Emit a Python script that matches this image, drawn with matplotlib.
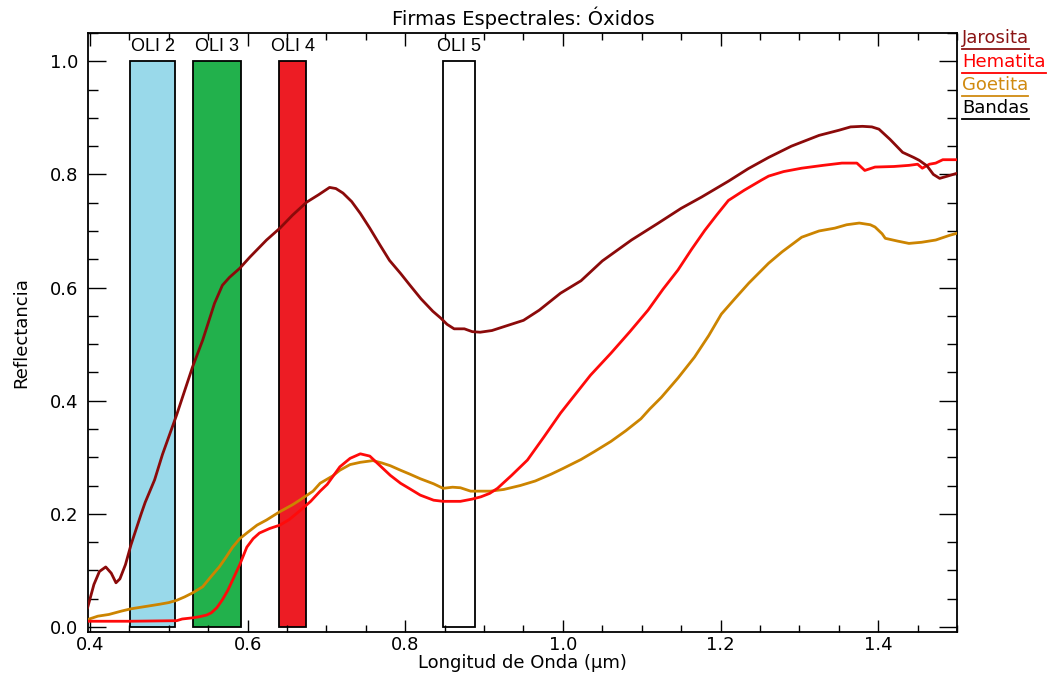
import numpy as np
import matplotlib
matplotlib.use("Agg")
import matplotlib.pyplot as plt
from matplotlib.ticker import MultipleLocator
from matplotlib.lines import Line2D

# --- datos ---
jaro_x = [0.397, 0.405, 0.412, 0.420, 0.427, 0.433, 0.438, 0.445, 0.452, 0.465, 0.470, 0.482,
          0.492, 0.510, 0.530, 0.543, 0.558, 0.568, 0.577, 0.590, 0.603, 0.624, 0.641, 0.657,
          0.675, 0.690, 0.704, 0.712, 0.721, 0.732, 0.743, 0.755, 0.768, 0.780, 0.794, 0.806,
          0.820, 0.835, 0.845, 0.853, 0.862, 0.875, 0.885, 0.895, 0.910, 0.930, 0.950, 0.970,
          0.997, 1.023, 1.050, 1.087, 1.120, 1.150, 1.176, 1.210, 1.235, 1.261, 1.290, 1.325,
          1.350, 1.365, 1.380, 1.392, 1.401, 1.415, 1.431, 1.445, 1.452, 1.462, 1.470, 1.478,
          1.488, 1.500]
jaro_y = [0.034, 0.075, 0.098, 0.106, 0.095, 0.078, 0.085, 0.110, 0.145, 0.200, 0.220, 0.260,
          0.305, 0.375, 0.459, 0.507, 0.572, 0.604, 0.618, 0.634, 0.654, 0.684, 0.705, 0.728,
          0.751, 0.764, 0.777, 0.775, 0.767, 0.752, 0.731, 0.705, 0.675, 0.648, 0.625, 0.604,
          0.580, 0.558, 0.546, 0.535, 0.527, 0.527, 0.522, 0.521, 0.524, 0.533, 0.542, 0.560,
          0.590, 0.612, 0.647, 0.684, 0.713, 0.740, 0.760, 0.788, 0.810, 0.830, 0.850, 0.869,
          0.878, 0.884, 0.885, 0.884, 0.880, 0.862, 0.839, 0.830, 0.825, 0.815, 0.800, 0.793,
          0.797, 0.802]

hema_x = [0.397, 0.450, 0.510, 0.517, 0.530, 0.539, 0.548, 0.554, 0.561, 0.568, 0.575, 0.581,
          0.590, 0.599, 0.607, 0.615, 0.628, 0.641, 0.653, 0.666, 0.680, 0.692, 0.701, 0.717,
          0.730, 0.743, 0.755, 0.768, 0.781, 0.794, 0.806, 0.819, 0.836, 0.848, 0.870, 0.885,
          0.896, 0.907, 0.917, 0.935, 0.955, 0.976, 0.997, 1.010, 1.035, 1.061, 1.085, 1.108,
          1.127, 1.146, 1.163, 1.180, 1.195, 1.210, 1.230, 1.252, 1.261, 1.280, 1.303, 1.330,
          1.354, 1.373, 1.383, 1.396, 1.420, 1.439, 1.450, 1.456, 1.465, 1.473, 1.482, 1.500]
hema_y = [0.010, 0.010, 0.011, 0.014, 0.016, 0.018, 0.021, 0.025, 0.034, 0.048, 0.065, 0.083,
          0.110, 0.141, 0.156, 0.166, 0.174, 0.180, 0.190, 0.205, 0.222, 0.240, 0.252, 0.283,
          0.298, 0.306, 0.302, 0.285, 0.268, 0.254, 0.244, 0.233, 0.224, 0.222, 0.222, 0.226,
          0.230, 0.236, 0.245, 0.268, 0.295, 0.336, 0.378, 0.401, 0.445, 0.484, 0.522, 0.560,
          0.597, 0.631, 0.667, 0.701, 0.728, 0.754, 0.772, 0.790, 0.797, 0.805, 0.811, 0.816,
          0.820, 0.820, 0.807, 0.813, 0.814, 0.816, 0.818, 0.811, 0.818, 0.820, 0.826, 0.826]

goet_x = [0.397, 0.410, 0.424, 0.440, 0.452, 0.470, 0.488, 0.500, 0.510, 0.520, 0.530, 0.543,
          0.553, 0.564, 0.572, 0.581, 0.590, 0.599, 0.612, 0.624, 0.640, 0.657, 0.666, 0.683,
          0.692, 0.708, 0.717, 0.730, 0.743, 0.759, 0.770, 0.781, 0.794, 0.806, 0.819, 0.836,
          0.848, 0.860, 0.870, 0.883, 0.895, 0.908, 0.925, 0.946, 0.965, 0.985, 1.000, 1.023,
          1.040, 1.061, 1.080, 1.099, 1.110, 1.125, 1.146, 1.167, 1.185, 1.201, 1.218, 1.236,
          1.261, 1.278, 1.303, 1.325, 1.345, 1.360, 1.376, 1.390, 1.396, 1.405, 1.409, 1.425,
          1.439, 1.455, 1.473, 1.490, 1.500]
goet_y = [0.013, 0.019, 0.022, 0.028, 0.032, 0.036, 0.040, 0.043, 0.047, 0.053, 0.060, 0.071,
          0.088, 0.106, 0.122, 0.141, 0.156, 0.166, 0.180, 0.189, 0.203, 0.216, 0.224, 0.240,
          0.254, 0.267, 0.277, 0.287, 0.291, 0.294, 0.290, 0.285, 0.277, 0.270, 0.262, 0.253,
          0.245, 0.247, 0.246, 0.240, 0.240, 0.240, 0.243, 0.250, 0.258, 0.270, 0.280, 0.296,
          0.310, 0.328, 0.347, 0.368, 0.385, 0.406, 0.440, 0.477, 0.515, 0.553, 0.580, 0.608,
          0.643, 0.663, 0.689, 0.700, 0.705, 0.711, 0.714, 0.711, 0.707, 0.695, 0.687, 0.682,
          0.678, 0.680, 0.684, 0.692, 0.696]

# bandas OLI (inicio, fin) en µm
band_names = ["OLI 2", "OLI 3", "OLI 4", "OLI 5"]
band_lo = [0.451, 0.531, 0.640, 0.848]
band_hi = [0.508, 0.591, 0.674, 0.889]
band_colors = ["#99D9EA", "#22B14C", "#ED1C24", "white"]

legend_names = ["Jarosita", "Hematita", "Goetita", "Bandas"]
legend_colors = ["#8B1414", "#FF0000", "#D08A10", "black"]

c_jaro = "#8B0A0A"
c_hema = "#FF0A0A"
c_goet = "#CC8400"

fig = plt.figure(figsize=(10.5, 6.75), dpi=100)
ax = fig.add_axes([88 / 1050, 43 / 675, 869 / 1050, 599 / 675])

for name, lo, hi, col in zip(band_names, band_lo, band_hi, band_colors):
    ax.bar(lo, 1.0, width=hi - lo, align="edge", color=col,
           edgecolor="black", linewidth=1.3, zorder=1)
    ax.text((lo + hi) / 2, 1.027, name, ha="center", va="center",
            fontsize=13, family=["Liberation Sans", "DejaVu Sans"], zorder=5)

ax.plot(goet_x, goet_y, color=c_goet, lw=2, zorder=3)
ax.plot(hema_x, hema_y, color=c_hema, lw=2, zorder=3)
ax.plot(jaro_x, jaro_y, color=c_jaro, lw=2, zorder=4)

ax.set_xlim(0.3975, 1.5)
ax.set_ylim(-0.009, 1.05)
ax.xaxis.set_major_locator(MultipleLocator(0.2))
ax.xaxis.set_minor_locator(MultipleLocator(0.05))
ax.yaxis.set_major_locator(MultipleLocator(0.2))
ax.yaxis.set_minor_locator(MultipleLocator(0.05))
ax.xaxis.set_major_formatter(lambda v, p: f"{v:.1f}")
ax.yaxis.set_major_formatter(lambda v, p: f"{v:.1f}")
ax.tick_params(axis="both", which="both", direction="in", top=True, right=True,
               labelsize=13, width=1.0)
ax.tick_params(axis="x", which="major", length=9, pad=3)
ax.tick_params(axis="x", which="minor", length=5)
ax.tick_params(axis="y", which="major", length=13, pad=7)
ax.tick_params(axis="y", which="minor", length=7)
for sp in ax.spines.values():
    sp.set_linewidth(1.3)

ax.set_xlabel("Longitud de Onda (µm)", fontsize=13, labelpad=0)
ax.set_ylabel("Reflectancia", fontsize=13, labelpad=14)
fig.text(523 / 1050, 1 - 18 / 675, "Firmas Espectrales: Óxidos",
         ha="center", va="center", fontsize=14)

# leyenda subrayada a la derecha
fig.canvas.draw()
renderer = fig.canvas.get_renderer()
leg_y = [38, 62, 85, 108]
for name, col, yy in zip(legend_names, legend_colors, leg_y):
    t = fig.text(962 / 1050, 1 - yy / 675, name, color=col, fontsize=13,
                 ha="left", va="center")
    bb = t.get_window_extent(renderer).transformed(fig.transFigure.inverted())
    uy = 1 - (yy + 11) / 675
    fig.add_artist(Line2D([bb.x0, bb.x1], [uy, uy], color=col, lw=1.3,
                          transform=fig.transFigure))

fig.savefig("out.png", dpi=100)
